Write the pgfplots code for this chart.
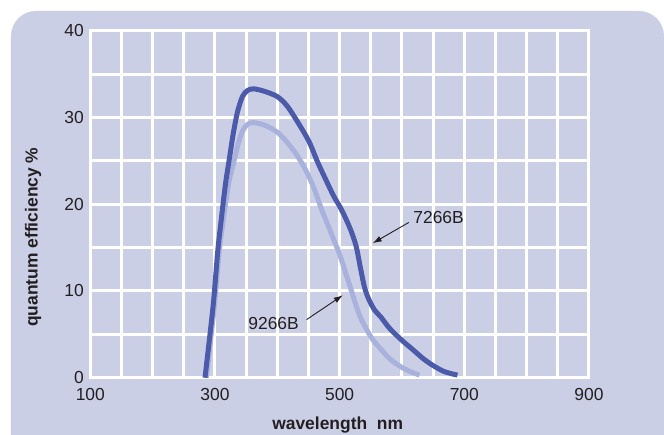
\documentclass[border=0pt]{standalone}
\usepackage{pgfplots}
\pgfplotsset{compat=1.18}
\usepackage{fontspec}
\setmainfont{Liberation Sans}
\usetikzlibrary{arrows.meta,backgrounds}
\definecolor{bglav}{HTML}{CBCFE6}
\definecolor{qdark}{HTML}{4B5BAA}
\definecolor{qlight}{HTML}{A9B2DC}
\definecolor{txt}{HTML}{231F20}

\begin{document}
\begin{tikzpicture}
\begin{axis}[
  at={(0,0)}, anchor=south west,
  scale only axis, width=498.7bp, height=347bp,
  xmin=100, xmax=900, ymin=0, ymax=40,
  xtick={100,300,500,700,900}, ytick={0,10,20,30,40},
  minor xtick={150,200,250,350,400,450,550,600,650,750,800,850},
  minor ytick={5,15,25,35},
  grid=both,
  major grid style={white,line width=3bp},
  minor grid style={white,line width=3bp},
  axis line style={white,line width=3bp},
  major tick length=0pt, minor tick length=0pt,
  axis background/.style={fill=bglav},
  /pgf/number format/assume math mode=true,
  ticklabel style={font=\fontsize{17.5}{20}\selectfont, text=txt},
  xticklabel style={yshift=-7.5bp},
  yticklabel style={xshift=-3bp},
  xlabel={wavelength\ \ nm}, ylabel={quantum efficiency \%},
  label style={font=\fontsize{17.5}{20}\selectfont\bfseries, text=txt},
  xlabel style={at={(axis description cs:0.496,0)}, anchor=center, yshift=-47.3bp},
  ylabel style={at={(axis description cs:0,0.405)}, anchor=center, yshift=57.3bp},
  clip=false,
]
% 9266B
\addplot[qlight, line width=5bp, smooth, line join=round] coordinates {
  (286,0) (294,5) (300,9) (307,14.7) (314,18.5) (322,22.4) (330,24.8)
  (337,26.9) (344,28.4) (352,29.2) (362,29.4) (380,29.1) (400,28.3)
  (415,27.2) (431,25.7) (445,24) (458,22) (470,19.6) (480,17.8) (490,16)
  (500,14.2) (510,12) (519,10) (526,8.4) (533,7) (543,5.6) (553,4.4)
  (566,3.3) (580,2.2) (595,1.4) (610,0.8) (628,0.3)};
% 7266B
\addplot[qdark, line width=5bp, smooth, line join=round] coordinates {
  (284,0) (292,5) (298,9) (304.6,14.7) (310.5,18.5) (317,22.4) (323,25.2)
  (329,28) (336,30.6) (344,32.4) (352,33.1) (362,33.3) (380,33) (400,32.4)
  (416,31.3) (435,29.2) (451,27.2) (465,24.8) (478,22.8) (490,21)
  (502,19.5) (512,18) (520,16.6) (527,15) (533,12.8) (540,10.4) (547,9)
  (556,7.8) (566,7.0) (580,5.7) (600,4.3) (618,3.2) (634,2.2) (650,1.4)
  (668,0.7) (689,0.3)};
\draw[txt, line width=0.9bp, -{Latex[length=9bp,width=6bp]}] (axis cs:611,17.9) -- (axis cs:553,15.5);
\draw[txt, line width=0.9bp, -{Latex[length=9bp,width=6bp]}] (axis cs:447,6.7) -- (axis cs:505,9.5);
\node[text=txt, font=\fontsize{17.5}{20}\selectfont] at (axis cs:658.7,18.5) {7266B};
\node[text=txt, font=\fontsize{17.5}{20}\selectfont] at (axis cs:394,6.3) {9266B};
\end{axis}
\pgfresetboundingbox
\path[use as bounding box] (-90.3bp,-57.3bp) rectangle (573.7bp,377.7bp);
\begin{pgfonlayer}{background}
  \fill[white] (-90.3bp,-57.3bp) rectangle (573.7bp,377.7bp);
  \fill[bglav, rounded corners=25bp] (-79.3bp,-90bp) rectangle (573.7bp,366.7bp);
\end{pgfonlayer}
\end{tikzpicture}
\end{document}
